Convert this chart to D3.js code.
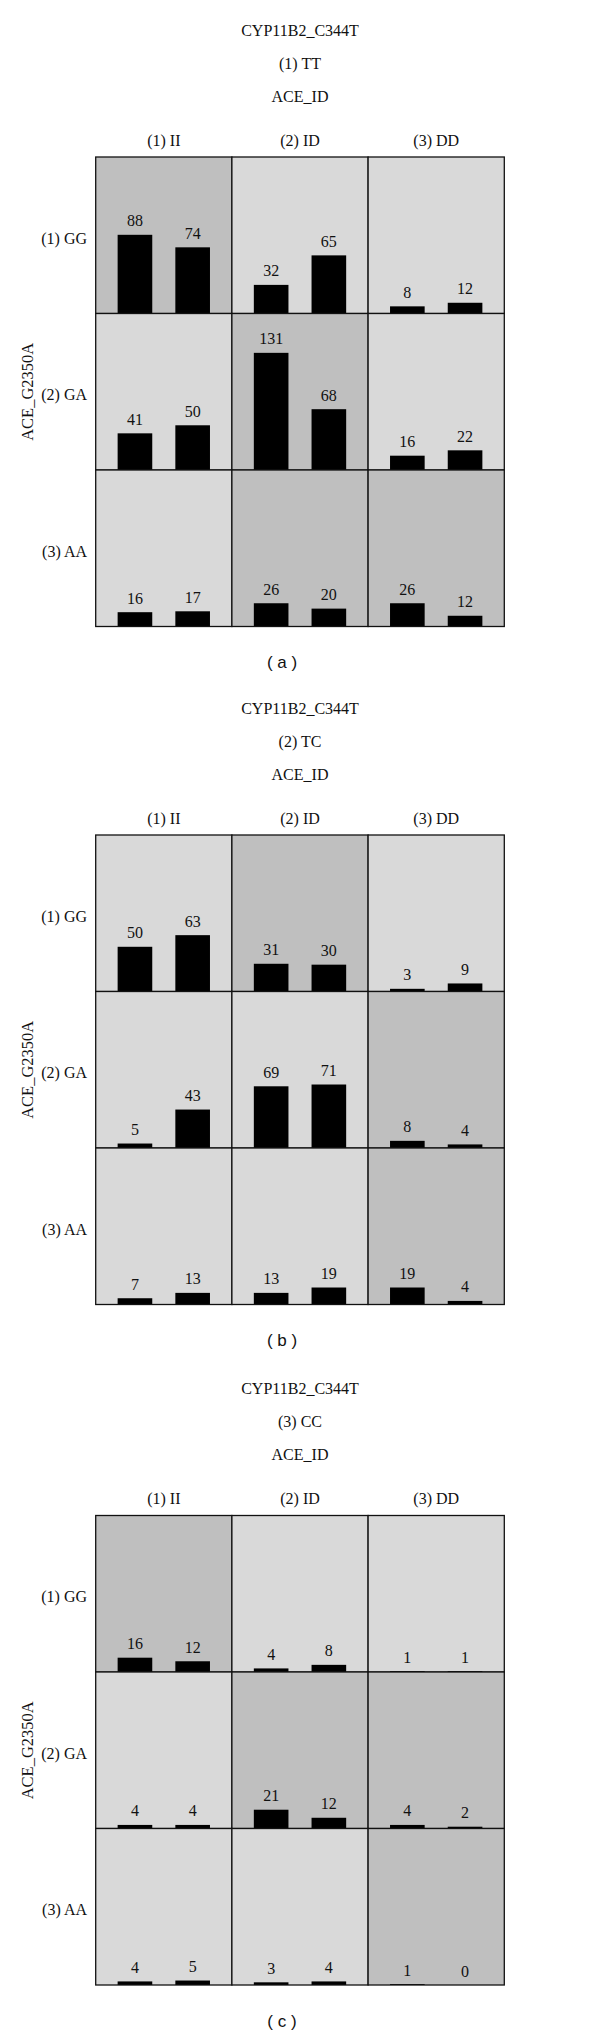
<!DOCTYPE html>
<html>
<head>
<meta charset="utf-8">
<script src="https://cdn.jsdelivr.net/npm/d3@7"></script>
<style>
  body { margin: 0; background: #fff; }
  svg text { fill: #111; }
  .serif { font-family: "Liberation Serif", "DejaVu Serif", serif; }
  .caption { font-family: "Liberation Sans", Arial, sans-serif; font-size: 17px; }
</style>
</head>
<body>
<svg id="chart"></svg>
<script>
// ------------------------------------------------------------
// data: three panels (CYP11B2_C344T genotype), 3x3 grid each,
// two bars per cell
// ------------------------------------------------------------
const panelNames = ["(1) TT", "(2) TC", "(3) CC"];
const panelCaptions = ["( a )", "( b )", "( c )"];
const colLabels = ["(1) II", "(2) ID", "(3) DD"];   // ACE_ID
const rowLabels = ["(1) GG", "(2) GA", "(3) AA"];   // ACE_G2350A

// values[row][col] = [bar1, bar2]
const valuesTT = [
  [[88, 74], [32, 65], [8, 12]],
  [[41, 50], [131, 68], [16, 22]],
  [[16, 17], [26, 20], [26, 12]]
];
const valuesTC = [
  [[50, 63], [31, 30], [3, 9]],
  [[5, 43], [69, 71], [8, 4]],
  [[7, 13], [13, 19], [19, 4]]
];
const valuesCC = [
  [[16, 12], [4, 8], [1, 1]],
  [[4, 4], [21, 12], [4, 2]],
  [[4, 5], [3, 4], [1, 0]]
];

// highlighted (darker) cells, same layout
const shadeTT = [[1, 0, 0], [0, 1, 0], [0, 1, 1]];
const shadeTC = [[0, 1, 0], [0, 0, 1], [0, 0, 1]];
const shadeCC = [[1, 0, 0], [0, 1, 1], [0, 0, 1]];

const allValues = [valuesTT, valuesTC, valuesCC];
const allShade = [shadeTT, shadeTC, shadeCC];

// ------------------------------------------------------------
// layout
// ------------------------------------------------------------
const width = 600, height = 2036;
const gridLeft = 95.7, gridRight = 504.3;
const gridH = 469.5;
const panelTops = [157, 835, 1515.5];

const svg = d3.select("#chart").attr("width", width).attr("height", height);

const xCol = d3.scaleBand().domain(d3.range(3)).range([gridLeft, gridRight]);
const yRow = d3.scaleBand().domain(d3.range(3)).range([0, gridH]);
const rowH = yRow.bandwidth();

// bars inside a cell
const xBar = d3.scaleBand().domain([0, 1]).range([0, xCol.bandwidth()])
  .paddingInner(0.4).paddingOuter(0.38);
const yVal = d3.scaleLinear().domain([0, 175]).range([rowH, 0]);

const colors = { light: "#d9d9d9", dark: "#bfbfbf" };

panelNames.forEach((name, p) => {
  const top = panelTops[p];
  const g = svg.append("g").attr("transform", `translate(0,${top})`);
  const cx = (gridLeft + gridRight) / 2;

  // header lines
  const header = ["CYP11B2_C344T", name, "ACE_ID"];
  const headerY = [-127, -94, -61];
  g.selectAll(".hdr").data(header).join("text")
    .attr("class", "serif")
    .attr("x", cx).attr("y", (d, i) => headerY[i])
    .attr("text-anchor", "middle").attr("dominant-baseline", "central")
    .attr("font-size", 16)
    .text(d => d);

  // column labels
  g.selectAll(".col").data(colLabels).join("text")
    .attr("class", "serif")
    .attr("x", (d, i) => xCol(i) + xCol.bandwidth() / 2)
    .attr("y", -17)
    .attr("text-anchor", "middle").attr("dominant-baseline", "central")
    .attr("font-size", 16)
    .text(d => d);

  // row labels
  g.selectAll(".row").data(rowLabels).join("text")
    .attr("class", "serif")
    .attr("x", 87)
    .attr("y", (d, i) => yRow(i) + rowH / 2 + 3)
    .attr("text-anchor", "end").attr("dominant-baseline", "central")
    .attr("font-size", 16)
    .text(d => d);

  // vertical axis title
  g.append("text")
    .attr("class", "serif")
    .attr("transform", `translate(27,${gridH / 2}) rotate(-90)`)
    .attr("text-anchor", "middle").attr("dominant-baseline", "central")
    .attr("font-size", 16.5)
    .text("ACE_G2350A");

  // cells
  const cells = [];
  allValues[p].forEach((row, r) => row.forEach((vals, c) => {
    cells.push({ r, c, vals, shade: allShade[p][r][c] });
  }));

  const cell = g.selectAll(".cell").data(cells).join("g")
    .attr("transform", d => `translate(${xCol(d.c)},${yRow(d.r)})`);

  cell.append("rect")
    .attr("width", xCol.bandwidth()).attr("height", rowH)
    .attr("fill", d => d.shade ? colors.dark : colors.light);

  cell.selectAll(".bar").data(d => d.vals).join("rect")
    .attr("x", (v, i) => xBar(i))
    .attr("y", v => yVal(v))
    .attr("width", xBar.bandwidth())
    .attr("height", v => rowH - yVal(v))
    .attr("fill", "#000");

  cell.selectAll(".lbl").data(d => d.vals).join("text")
    .attr("class", "serif")
    .attr("x", (v, i) => xBar(i) + xBar.bandwidth() / 2)
    .attr("y", v => yVal(v) - 8.5)
    .attr("text-anchor", "middle")
    .attr("font-size", 16)
    .text(v => v);

  // cell borders drawn on top
  cell.append("rect")
    .attr("width", xCol.bandwidth()).attr("height", rowH)
    .attr("fill", "none").attr("stroke", "#111").attr("stroke-width", 1.3);

  // caption
  g.append("text")
    .attr("class", "caption")
    .attr("x", 282).attr("y", gridH + 36)
    .attr("text-anchor", "middle").attr("dominant-baseline", "central")
    .text(panelCaptions[p]);
});
</script>
</body>
</html>
